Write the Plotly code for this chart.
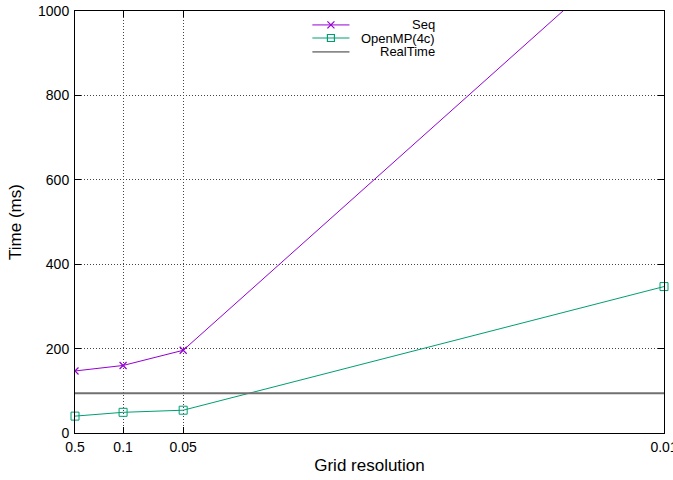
import plotly.graph_objects as go

resolutions = [0.5, 0.1, 0.05, 0.01]
tick_labels = ["0.5", "0.1", "0.05", "0.01"]
seq_ms = [147, 160, 196, 1214]
openmp_ms = [40, 49, 54, 347]
realtime_ms = 94

xvals = [1.0 / r for r in resolutions]

SEQ_C = "#9400D3"
OMP_C = "#009E73"
RT_C = "#707070"
FONT = "Liberation Sans, Arial, Helvetica, sans-serif"

fig = go.Figure()
fig.add_trace(go.Scatter(x=xvals, y=seq_ms, mode="lines+markers", name="Seq",
                         line=dict(color=SEQ_C, width=1),
                         marker=dict(symbol="x-thin", size=7, line=dict(color=SEQ_C, width=1.2), color=SEQ_C),
                         cliponaxis=True))
fig.add_trace(go.Scatter(x=xvals, y=openmp_ms, mode="lines+markers", name="OpenMP(4c)",
                         line=dict(color=OMP_C, width=1),
                         marker=dict(symbol="square-open", size=8, color=OMP_C, line=dict(width=1)),
                         cliponaxis=False))
fig.add_trace(go.Scatter(x=[xvals[0], xvals[-1]], y=[realtime_ms, realtime_ms], mode="lines",
                         name="RealTime", line=dict(color=RT_C, width=2)))

# legend samples on an overlay axis in [0,1]
leg_names = ["Seq", "OpenMP(4c)", "RealTime"]
leg_colors = [SEQ_C, OMP_C, "#333333"]
leg_symbols = ["x-thin", "square-open", None]
leg_y = [0.967, 0.936, 0.903]
for name, c, s, yy in zip(leg_names, leg_colors, leg_symbols, leg_y):
    fig.add_trace(go.Scatter(x=[0.403, 0.466], y=[yy, yy], mode="lines", xaxis="x2", yaxis="y2",
                             line=dict(color=c, width=1), showlegend=False, hoverinfo="skip"))
    if s:
        fig.add_trace(go.Scatter(x=[0.4345], y=[yy], mode="markers", xaxis="x2", yaxis="y2",
                                 marker=dict(symbol=s, size=7, color=c, line=dict(color=c, width=1.2)),
                                 showlegend=False, hoverinfo="skip"))
    fig.add_annotation(x=0.614, y=yy, xref="x2", yref="y2", text=name, showarrow=False,
                       xanchor="right", yanchor="middle", font=dict(size=13, color="black", family=FONT))

axis_common = dict(showline=True, linecolor="black", linewidth=1, mirror="ticks",
                   ticks="inside", ticklen=6, tickcolor="black",
                   showgrid=True, gridcolor="#444444", griddash="1px,2px", gridwidth=1,
                   zeroline=False, ticklabeloverflow="allow",
                   tickfont=dict(size=14, color="black", family=FONT))

fig.update_layout(
    width=673, height=480,
    margin=dict(l=75, r=9, t=11, b=47, autoexpand=False),
    paper_bgcolor="white", plot_bgcolor="white",
    showlegend=False,
    font=dict(family=FONT, size=13, color="black"),
    xaxis=dict(range=[xvals[0], xvals[-1]], tickvals=xvals, ticktext=tick_labels,
               ticklabelstandoff=1,
               title=dict(text="Grid resolution", font=dict(size=17), standoff=5), **axis_common),
    yaxis=dict(range=[0, 1000], tickvals=[0, 200, 400, 600, 800, 1000],
               ticklabelstandoff=2,
               title=dict(text="Time (ms)", font=dict(size=17), standoff=12), **axis_common),
    xaxis2=dict(range=[0, 1], overlaying="x", visible=False, fixedrange=True),
    yaxis2=dict(range=[0, 1], overlaying="y", visible=False, fixedrange=True),
)

fig.write_html("out.html", config={"displayModeBar": False},
               post_script="document.body.style.margin='0';")
